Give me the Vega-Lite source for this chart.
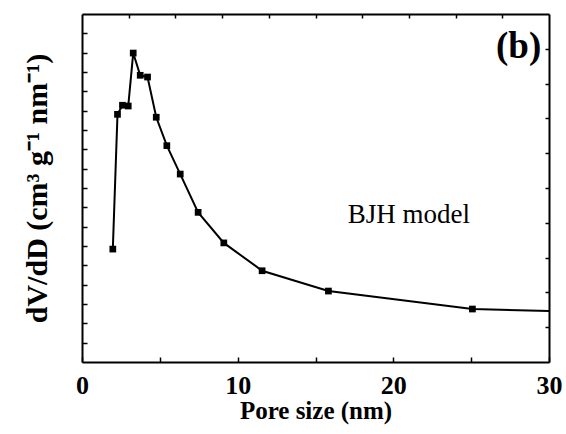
{
  "$schema": "https://vega.github.io/schema/vega-lite/v6.json",
  "width": 467,
  "height": 348,
  "autosize": "none",
  "padding": {"left": 82, "top": 14, "right": 17, "bottom": 72},
  "background": "white",
  "config": {
    "view": {"stroke": null},
    "font": "Liberation Serif",
    "text": {"font": "Liberation Serif"},
    "axis": {"domainColor": "black", "domainWidth": 2, "tickColor": "black", "tickWidth": 1.5, "grid": false, "labelFont": "Liberation Serif", "titleFont": "Liberation Serif", "labelColor": "black", "titleColor": "black"}
  },
  "datasets": {
    "psd": [
      {"d": 1.98, "v": 5.84},
      {"d": 2.28, "v": 12.81},
      {"d": 2.60, "v": 13.28},
      {"d": 2.97, "v": 13.24},
      {"d": 3.29, "v": 15.98},
      {"d": 3.74, "v": 14.83},
      {"d": 4.21, "v": 14.74},
      {"d": 4.77, "v": 12.66},
      {"d": 5.45, "v": 11.19},
      {"d": 6.31, "v": 9.72},
      {"d": 7.46, "v": 7.74},
      {"d": 9.11, "v": 6.16},
      {"d": 11.57, "v": 4.72},
      {"d": 15.83, "v": 3.67},
      {"d": 25.08, "v": 2.74},
      {"d": 40.0, "v": 2.45}
    ],
    "labels": [
      {"d": 29.5, "v": 15.72, "t": "(b)", "kind": "panel"},
      {"d": 17.07, "v": 7.17, "t": "BJH model", "kind": "note"}
    ]
  },
  "layer": [
    {
      "data": {"name": "psd"},
      "mark": {"type": "line", "color": "black", "strokeWidth": 2, "clip": true},
      "encoding": {
        "x": {"field": "d", "type": "quantitative", "scale": {"domain": [0, 30], "nice": false},
          "axis": {"orient": "bottom", "values": [0, 5, 10, 15, 20, 25, 30], "labelExpr": "datum.value % 10 === 0 ? datum.label : ''", "tickSize": -5, "labelPadding": 36, "labelFont": "Liberation Serif", "labelFontSize": 26, "labelFontWeight": "bold", "labelFlush": false, "labelBaseline": "alphabetic", "labelOverlap": false, "title": "Pore size (nm)", "titleFont": "Liberation Serif", "titleFontSize": 25, "titleFontWeight": "bold", "titlePadding": 0}},
        "y": {"field": "v", "type": "quantitative", "scale": {"domain": [0, 18], "nice": false},
          "axis": {"orient": "left", "values": [1,2,3,4,5,6,7,8,9,10,11,12,13,14,15,16,17], "labels": false, "tickSize": -5, "title": "dV/dD (cm³ g⁻¹ nm⁻¹)", "titleFont": "Liberation Serif", "titleFontSize": 30, "titleFontWeight": "bold", "titlePadding": 29}}
      }
    },
    {
      "data": {"name": "psd"},
      "transform": [{"filter": "datum.d <= 30"}],
      "mark": {"type": "point", "shape": "square", "filled": true, "color": "black", "size": 45, "opacity": 1},
      "encoding": {
        "x": {"field": "d", "type": "quantitative", "scale": {"domain": [0, 30], "nice": false},
          "axis": {"orient": "top", "values": [3, 6, 9, 12, 15, 18, 21, 24, 27], "labels": false, "tickSize": -4, "title": null}},
        "y": {"field": "v", "type": "quantitative", "scale": {"domain": [0, 18], "nice": false},
          "axis": {"orient": "right", "values": [1.8, 3.6, 5.4, 7.2, 9, 10.8, 12.6, 14.4, 16.2], "labels": false, "tickSize": -4, "title": null}}
      }
    },
    {
      "data": {"name": "labels"},
      "transform": [{"filter": "datum.kind === 'panel'"}],
      "mark": {"type": "text", "align": "right", "baseline": "alphabetic", "font": "Liberation Serif", "fontWeight": "bold", "fontSize": 37, "color": "black"},
      "encoding": {
        "x": {"field": "d", "type": "quantitative", "axis": null},
        "y": {"field": "v", "type": "quantitative", "axis": null},
        "text": {"field": "t"}
      }
    },
    {
      "data": {"name": "labels"},
      "transform": [{"filter": "datum.kind === 'note'"}],
      "mark": {"type": "text", "align": "left", "baseline": "alphabetic", "font": "Liberation Serif", "fontSize": 27, "letterSpacing": -2, "color": "black"},
      "encoding": {
        "x": {"field": "d", "type": "quantitative", "axis": null},
        "y": {"field": "v", "type": "quantitative", "axis": null},
        "text": {"field": "t"}
      }
    }
  ],
  "resolve": {"axis": {"x": "independent", "y": "independent"}}
}
